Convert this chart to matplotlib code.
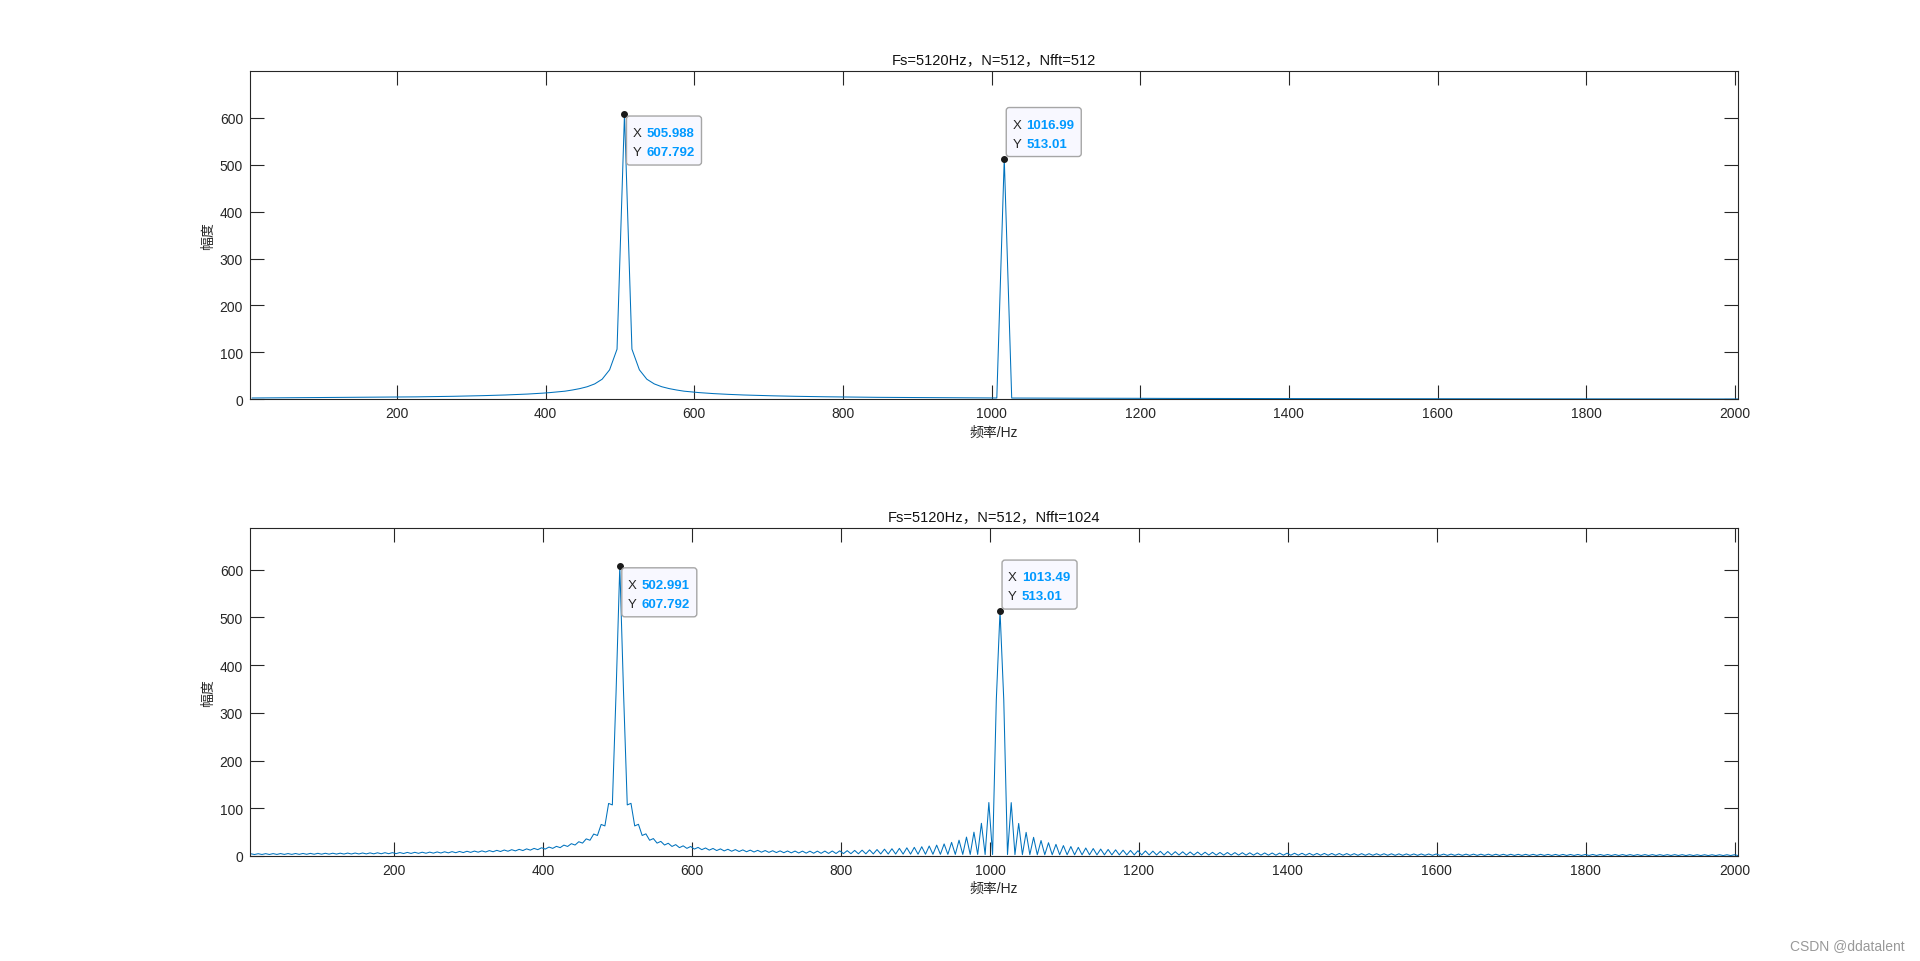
import numpy as np
import matplotlib
matplotlib.use("Agg")
import matplotlib.pyplot as plt
from matplotlib.patches import FancyBboxPatch
from matplotlib.transforms import IdentityTransform

plt.rcParams['font.family'] = ['Liberation Sans', 'Noto Sans CJK SC', 'DejaVu Sans']

# ---------------- data ----------------
Fs = 5120
N = 512
nfft_list = [512, 1024]
titles = ["Fs=5120Hz，N=512，Nfft=512", "Fs=5120Hz，N=512，Nfft=1024"]
xlabel_txt = "频率/Hz"
ylabel_txt = "幅度"
xticks = [200, 400, 600, 800, 1000, 1200, 1400, 1600, 1800, 2000]
yticks = [0, 100, 200, 300, 400, 500, 600]

# magnitude on the 10 Hz bins (Nfft=512), bins 0..200
amp_512 = [
    3.0, 3.1, 3.2, 3.2, 3.3, 3.35, 3.4, 3.5, 3.6, 3.7,
    3.8, 3.9, 4.0, 4.1, 4.2, 4.3, 4.4, 4.55, 4.7, 4.85,
    5.0, 5.2, 5.4, 5.6, 5.8, 6.0, 6.3, 6.6, 6.9, 7.2,
    7.6, 8.0, 8.4, 8.9, 9.4, 10.0, 10.7, 11.4, 12.3, 13.3,
    14.5, 16.0, 17.5, 20.0, 23.0, 27.0, 33.0, 43.0, 63.0, 107.0,
    607.792,
    107.0, 63.0, 43.0, 33.0, 27.0, 23.0, 20.0, 17.5, 16.0, 14.5,
    13.3, 12.3, 11.4, 10.7, 10.0, 9.4, 8.9, 8.4, 8.0, 7.6,
    7.2, 6.9, 6.6, 6.3, 6.0, 5.8, 5.6, 5.4, 5.2, 5.0,
    4.85, 4.7, 4.55, 4.4, 4.3, 4.2, 4.1, 4.0, 3.9, 3.8,
    3.7, 3.6, 3.5, 3.4, 3.35, 3.3, 3.2, 3.2, 3.1, 3.0,
    513.01,
    2.9, 2.9, 2.8, 2.8, 2.7, 2.7, 2.6, 2.6, 2.6,
    2.5, 2.5, 2.5, 2.4, 2.4, 2.4, 2.3, 2.3, 2.3, 2.2,
    2.2, 2.2, 2.1, 2.1, 2.1, 2.0, 2.0, 2.0, 2.0, 1.9,
    1.9, 1.9, 1.9, 1.8, 1.8, 1.8, 1.8, 1.7, 1.7, 1.7,
    1.7, 1.7, 1.6, 1.6, 1.6, 1.6, 1.6, 1.5, 1.5, 1.5,
    1.5, 1.5, 1.5, 1.4, 1.4, 1.4, 1.4, 1.4, 1.4, 1.3,
    1.3, 1.3, 1.3, 1.3, 1.3, 1.3, 1.2, 1.2, 1.2, 1.2,
    1.2, 1.2, 1.2, 1.2, 1.1, 1.1, 1.1, 1.1, 1.1, 1.1,
    1.1, 1.1, 1.0, 1.0, 1.0, 1.0, 1.0, 1.0, 1.0, 1.0,
    1.0, 1.0, 0.9, 0.9, 0.9, 0.9, 0.9, 0.9, 0.9, 0.9,
]

# extra in-between points produced by zero padding (Nfft=1024), odd bins 1..399
amp_1024_mid = [
    4.7, 4.8, 4.9, 5.0, 5.1, 5.1, 5.2, 5.3, 5.5, 5.6,
    5.7, 5.8, 5.9, 6.1, 6.2, 6.3, 6.5, 6.7, 6.9, 7.0,
    7.2, 7.5, 7.7, 7.9, 8.1, 8.5, 8.8, 9.1, 9.5, 9.9,
    10.3, 10.7, 11.3, 11.8, 12.5, 13.2, 13.9, 14.9, 15.9, 17.2,
    18.7, 20.2, 22.8, 25.8, 29.9, 35.9, 46.0, 66.1, 110.1, 343.0,
    343.0, 110.3, 66.4, 46.4, 36.5, 30.6, 26.7, 23.8, 21.3, 19.9,
    18.0, 16.8, 15.8, 14.9, 14.1, 13.4, 12.8, 12.3, 11.8, 11.4,
    11.0, 10.7, 10.5, 10.3, 10.2, 10.1, 10.2, 10.3, 10.5, 10.8,
    11.2, 11.7, 12.2, 12.8, 13.5, 14.3, 15.2, 16.0, 17.1, 18.1,
    19.4, 20.9, 22.8, 25.3, 28.5, 33.1, 39.6, 49.9, 68.5, 112.0,
    327.0, 327.0, 111.8, 68.2, 49.5, 39.1, 32.4, 27.8, 24.4, 21.8,
    19.8, 18.1, 16.7, 15.6, 14.5, 13.7, 12.9, 12.2, 11.6, 11.1,
    10.6, 10.2, 9.8, 9.4, 9.0, 8.8, 8.4, 8.2, 7.9, 7.7,
    7.4, 7.3, 7.1, 6.9, 6.7, 6.5, 6.4, 6.3, 6.1, 5.9,
    5.8, 5.7, 5.6, 5.4, 5.4, 5.3, 5.2, 5.1, 4.9, 4.9,
    4.8, 4.7, 4.7, 4.6, 4.5, 4.4, 4.3, 4.3, 4.2, 4.2,
    4.0, 4.0, 4.0, 3.9, 3.9, 3.8, 3.8, 3.7, 3.6, 3.6,
    3.5, 3.5, 3.5, 3.5, 3.4, 3.3, 3.3, 3.2, 3.2, 3.2,
    3.2, 3.1, 3.1, 3.0, 3.0, 2.9, 2.9, 2.9, 2.9, 2.8,
    2.8, 2.8, 2.8, 2.7, 2.6, 2.6, 2.6, 2.6, 2.6, 2.6,
]

# data-tip indices (peak bins) per subplot
tip_idx = [[50, 101], [100, 202]]
tip_side = [["below", "above"], ["below", "above"]]

# ---------------- series ----------------
f512 = np.linspace(-Fs / 2, Fs / 2, 512)[256:256 + len(amp_512)]
a512 = np.array(amp_512)
n1024 = len(amp_512) + len(amp_1024_mid)
f1024 = np.linspace(-Fs / 2, Fs / 2, 1024)[512:512 + n1024]
a1024 = np.empty(n1024)
a1024[0::2] = amp_512
a1024[1::2] = amp_1024_mid
series = [(f512, a512), (f1024, a1024)]

# ---------------- figure ----------------
W, H = 1920, 962
fig = plt.figure(figsize=(W / 100, H / 100), dpi=100)
fig.patch.set_facecolor('white')

ax_left = 250 / W
ax_w = 1487.5 / W
axes_rect = [
    [ax_left, 1 - 400.4 / H, ax_w, (400.4 - 72.2) / H],
    [ax_left, 1 - 857.0 / H, ax_w, (857.0 - 529.0) / H],
]
xlims = [(2.1, 2003.6), (6.5, 2003.6)]
ylims = [(0, 699), (0, 687)]
dark = '#262626'
line_c = '#0072BD'
blue_txt = '#0099FF'

axes = []
for k in range(2):
    ax = fig.add_axes(axes_rect[k])
    f, a = series[k]
    ax.plot(f, a, color=line_c, lw=0.75)
    ax.set_xlim(*xlims[k])
    ax.set_ylim(*ylims[k])
    ax.set_xticks(xticks)
    ax.set_yticks(yticks)
    ax.set_xticklabels([str(t) for t in xticks])
    ax.set_yticklabels([str(t) for t in yticks])
    ax.tick_params(direction='in', length=10, width=0.8, top=True, right=True,
                   colors=dark, labelsize=10, pad=5)
    for s in ax.spines.values():
        s.set_color(dark)
        s.set_linewidth(0.8)
    ax.set_title(titles[k], fontsize=10.5, color='#111111', pad=6)
    ax.set_xlabel(xlabel_txt, fontsize=10, color=dark)
    ax.xaxis.set_label_coords(0.5, -25 / 328.0)
    ax.set_ylabel(ylabel_txt, fontsize=10, color=dark)
    ax.yaxis.set_label_coords(-35 / 1487.5, 0.5)
    axes.append(ax)

# ---------------- data tips ----------------
fig.canvas.draw()
bw, bh = 75, 49
for k, ax in enumerate(axes):
    f, a = series[k]
    for idx, side in zip(tip_idx[k], tip_side[k]):
        xv, yv = f[idx], a[idx]
        dx, dy = ax.transData.transform((xv, yv))
        ax.plot([xv], [yv], 'o', ms=4, color='#1a1a1a', mec='#1a1a1a', zorder=5, clip_on=False)
        left = dx + 2
        if side == "below":
            top = dy - 2
        else:
            top = dy + 2 + bh
        box = FancyBboxPatch((left, top - bh), bw, bh,
                             boxstyle="round,pad=0,rounding_size=3",
                             transform=IdentityTransform(),
                             facecolor='#F8F8FF', edgecolor='#A6A6A6', lw=1.0, zorder=10)
        fig.add_artist(box)
        for row, (lab, val) in enumerate([("X", xv), ("Y", yv)]):
            ty = top - 17 - row * 19
            fig.text(left + 6, ty, lab, transform=IdentityTransform(), ha='left', va='center',
                     fontsize=9.5, color=dark, zorder=11)
            fig.text(left + 20, ty, "%.6g" % val, transform=IdentityTransform(), ha='left',
                     va='center', fontsize=9.5, color=blue_txt, fontweight='bold', zorder=11)

fig.text(1905 / W, 1 - 946 / H, "CSDN @ddatalent", ha='right', va='center',
         fontsize=10, color='#999999')

fig.savefig('out.png', dpi=100, facecolor='white')
